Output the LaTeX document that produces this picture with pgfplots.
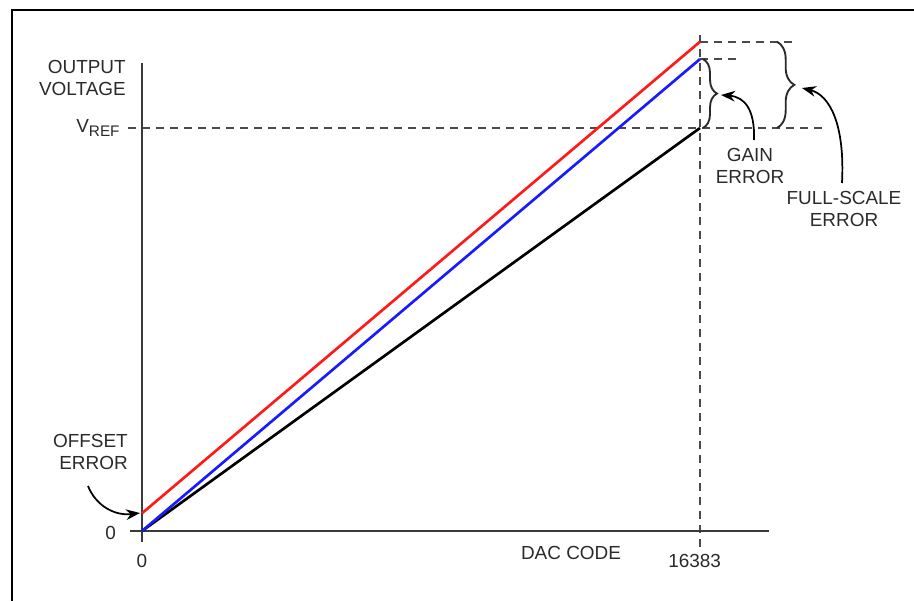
\documentclass[border=0pt]{standalone}
\usepackage{fontspec}
\setmainfont{Liberation Sans}
\usepackage{pgfplots}
\pgfplotsset{compat=1.18}
\usetikzlibrary{decorations.pathreplacing,arrows.meta}
\definecolor{txt}{HTML}{2A2A2A}
\definecolor{axgray}{HTML}{3A3A3A}
\definecolor{dashgray}{HTML}{4A4A4A}
\definecolor{redline}{HTML}{FF1A1A}
\definecolor{blueline}{HTML}{1A1AFF}
\begin{document}
\begin{tikzpicture}[font=\fontsize{14.2}{16}\selectfont]
\begin{axis}[at={(0,0)},anchor=south west,scale only axis,
  width=685.5pt,height=450.75pt,
  xmin=-4169.1,xmax=22666,ymin=-0.1737,ymax=1.3176,
  hide axis,clip=false]
% dashed guide lines
\draw[dashgray,line width=1.7pt,dash pattern=on 6pt off 4.5pt]
  (axis cs:16383,1.2308) -- (axis cs:16383,-0.0422);
\draw[dashgray,line width=1.7pt,dash pattern=on 6pt off 4.5pt]
  (axis cs:-411,1) -- (axis cs:19965,1);
\draw[dashgray,line width=1.7pt,dash pattern=on 6pt off 4.5pt]
  (axis cs:16383,1.214) -- (axis cs:19260,1.214);
\draw[dashgray,line width=1.7pt,dash pattern=on 6pt off 4.5pt]
  (axis cs:16383,1.171) -- (axis cs:17616,1.171);
% axes
\draw[axgray,line width=1.7pt] (axis cs:0,-0.0273) -- (axis cs:0,1.1613);
\draw[axgray,line width=1.7pt] (axis cs:-352,0) -- (axis cs:18409,0);
% transfer functions
\addplot[black,line width=2pt] coordinates {(0,0) (16383,1)};
\addplot[blueline,line width=2pt] coordinates {(0,0) (16383,1.171)};
\addplot[redline,line width=2pt] coordinates {(0,0.044) (16383,1.214)};
% braces
\draw[txt,line width=1.4pt,decorate,decoration={brace,amplitude=10.5pt}]
  (axis cs:16471,1.171) -- (axis cs:16471,1.0);
\draw[txt,line width=1.4pt,decorate,decoration={brace,amplitude=13pt}]
  (axis cs:18644,1.214) -- (axis cs:18644,1.0);
% tick labels
\node[text=txt] at (axis cs:0,-0.0744) {0};
\node[text=txt] at (axis cs:16226,-0.0744) {16383};
\node[text=txt,anchor=east] at (axis cs:-630,-0.005) {0};
\node[text=txt,anchor=east,inner sep=0pt] at (axis cs:-650,1.0) {V{\fontsize{11.5}{12}\selectfont\raisebox{-3pt}{REF}}};
\end{axis}
\begin{scope}[x=0.75pt,y=-0.75pt,shift={(0,450.75pt)}]
% frame
\draw[black,line width=1.7pt] (12,601) -- (12,10) -- (914,10);
% labels
\node[text=txt,align=right,anchor=east,inner sep=0pt] at (126,78) {OUTPUT\\VOLTAGE};
\node[text=txt,align=right,anchor=east,inner sep=0pt] at (128,452) {OFFSET\\ERROR};
\node[text=txt] at (571,553) {DAC CODE};
\node[text=txt,align=center,inner sep=0pt] at (750,166) {GAIN\\ERROR};
\node[text=txt,align=center,inner sep=0pt] at (844,209) {FULL-SCALE\\ERROR};
% arrows
\draw[black,line width=1.3pt,-{Stealth[length=10.5pt,width=8pt]}]
  (88,486) .. controls (96,506) and (115,516) .. (140,513);
\draw[black,line width=1.3pt,-{Stealth[length=10.5pt,width=8pt]}]
  (754,140) .. controls (755,110) and (745,97) .. (721,95);
\draw[black,line width=1.3pt,-{Stealth[length=10.5pt,width=8pt]}]
  (842,183) .. controls (845,125) and (830,95) .. (802,88);
\end{scope}
\pgfresetboundingbox
\path[use as bounding box] (0,0) rectangle (685.5pt,450.75pt);
\end{tikzpicture}
\end{document}
